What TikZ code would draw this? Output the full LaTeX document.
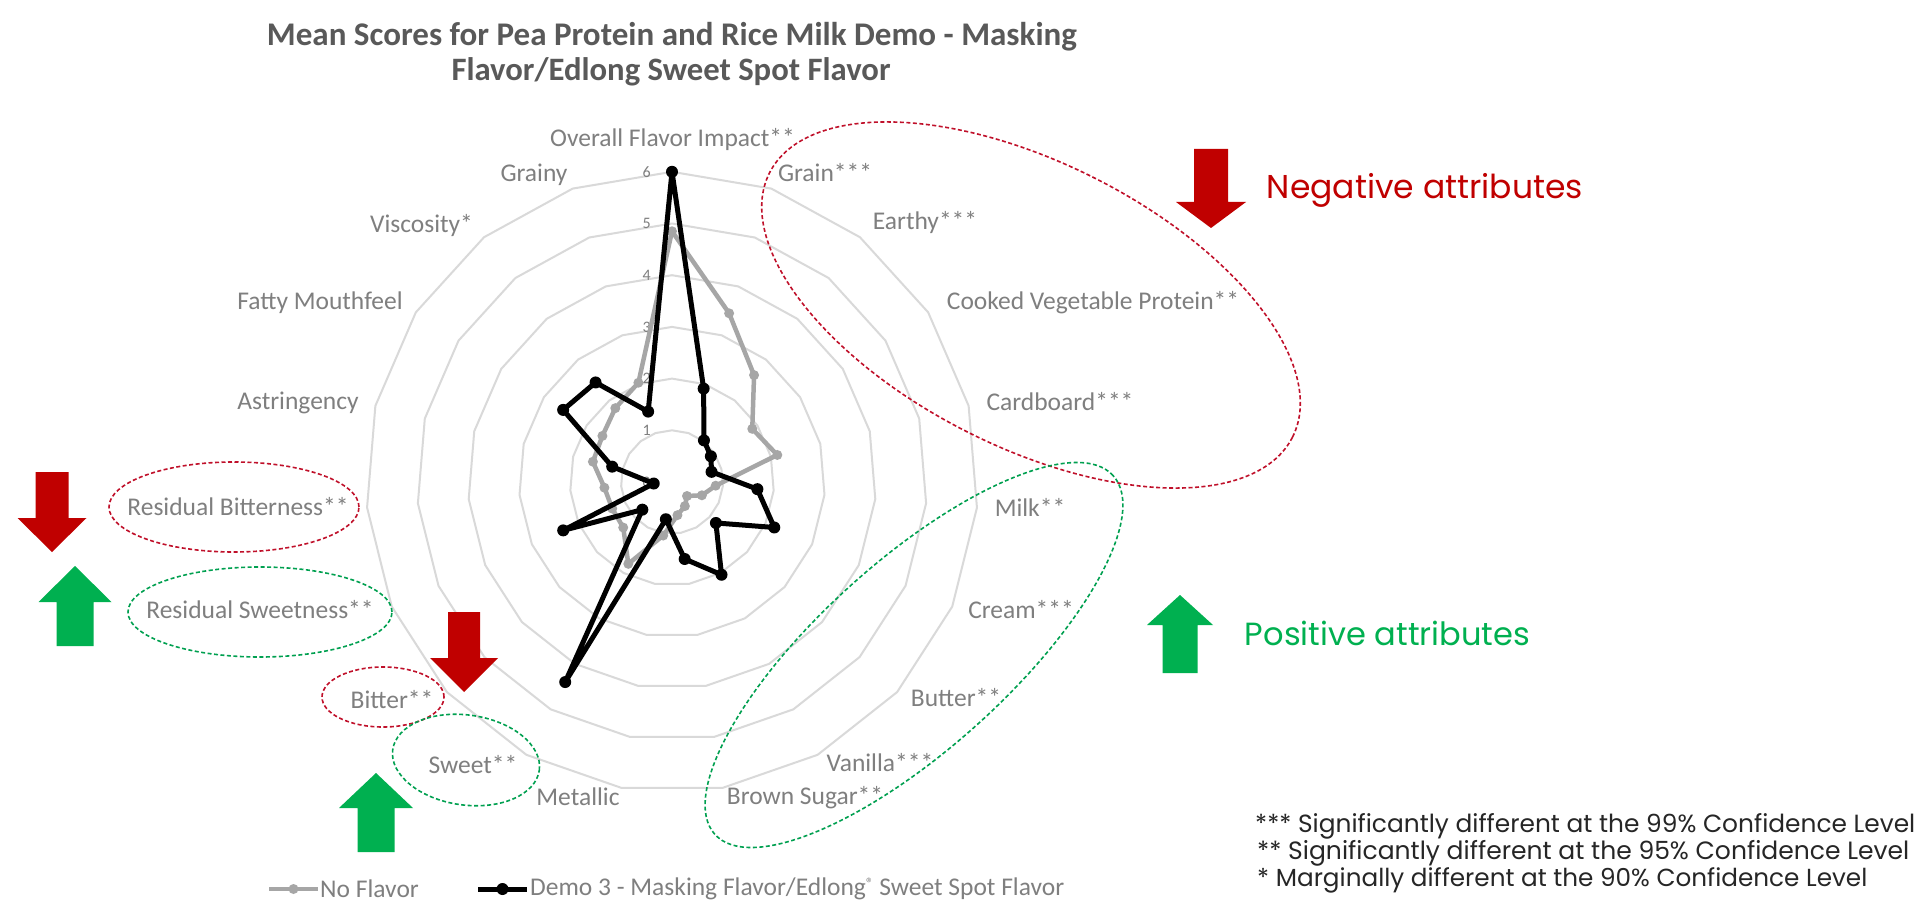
\documentclass[tikz,border=0pt]{standalone}
\usepackage{fontspec}
\setmainfont{Carlito}
\newfontfamily\gothic{Poppins}
\usepackage{graphicx}
\usetikzlibrary{calc}
\definecolor{labgray}{HTML}{7F7F7F}
\definecolor{titlegray}{HTML}{595959}
\definecolor{ringgray}{HTML}{D9D9D9}
\definecolor{sergray}{HTML}{A6A6A6}
\definecolor{negred}{HTML}{C00000}
\definecolor{posgreen}{HTML}{00B050}
\definecolor{dashred}{HTML}{C0102A}
\definecolor{dashgreen}{HTML}{00A050}
\newcommand\fitw[2]{\resizebox{#1}{!}{#2}}
\newcommand\blockarrow[7]{%
  \fill[#7] ({#1-#3},#2) -- ({#1+#3},#2) -- ({#1+#3},#5) -- ({#1+#4},#5) -- (#1,#6) -- ({#1-#4},#5) -- ({#1-#3},#5) -- cycle;}
\begin{document}
\begin{tikzpicture}[x=1pt,y=-1pt,
  axlbl/.style={text=labgray,font=\fontsize{25.5}{30}\selectfont,inner sep=0pt},
  scalelbl/.style={text=labgray,font=\fontsize{16}{18}\selectfont,inner sep=0pt,anchor=east},
  ring/.style={draw=ringgray,line width=2pt,line join=round},
  gline/.style={draw=sergray,line width=4.5pt,line join=round},
  bline/.style={draw=black,line width=5pt,line join=round},
  gmark/.style={fill=sergray},
  bmark/.style={fill=black},
  titlestyle/.style={text=titlegray,font=\bfseries,inner sep=0pt},
  redell/.style={draw=dashred,line width=1.6pt,dash pattern=on 4pt off 2.5pt},
  greenell/.style={draw=dashgreen,line width=1.6pt,dash pattern=on 4pt off 2.5pt},
  attr/.style={font=\gothic,inner sep=0pt},
  foot/.style={font=\gothic,text=black!85,inner sep=0pt,anchor=west},
  leglbl/.style={text=labgray,font=\fontsize{25.5}{30}\selectfont,inner sep=0pt,anchor=west}]
\useasboundingbox (0,0) rectangle (1924,901);
\fill[white] (0,0) rectangle (1924,901);

% title
\node[titlestyle] (title1) at (672,37) {\fitw{810pt}{Mean Scores for Pea Protein and Rice Milk Demo - Masking}};
\node[titlestyle] (title2) at (671,72) {\fitw{439pt}{Flavor/Edlong Sweet Spot Flavor}};

% rings
\foreach \r in {1,...,6}{
  \draw[ring] (672,{482-51.7*\r}) \foreach \k in {1,...,18}{ -- ({672+51*\r*cos(90-\k*360/19)},{482-51.7*\r*sin(90-\k*360/19)}) } -- cycle;
}
% scale labels
\foreach \k in {0,...,6}{
  \node[scalelbl] (s\k) at (651,{482-51.7*\k}) {\k};
}

% axis labels
\node[axlbl] (l0) at (672.5,140) {Overall Flavor Impact**};
\node[axlbl] (l1) at (825,173) {Grain***};
\node[axlbl] (l2) at (925,223) {Earthy***};
\node[axlbl] (l3) at (1093,303) {Cooked Vegetable Protein**};
\node[axlbl] (l4) at (1060,402) {Cardboard***};
\node[axlbl] (l5) at (1030,507) {Milk**};
\node[axlbl] (l6) at (1021,610) {Cream***};
\node[axlbl] (l7) at (956,698) {Butter**};
\node[axlbl] (l8) at (880,763) {Vanilla***};
\node[axlbl] (l9) at (805,798) {Brown Sugar**};
\node[axlbl] (l10) at (578,797) {Metallic};
\node[axlbl] (l11) at (473,765) {Sweet**};
\node[axlbl] (l12) at (392,700) {Bitter**};
\node[axlbl] (l13) at (260,610) {Residual Sweetness**};
\node[axlbl] (l14) at (238,507) {Residual Bitterness**};
\node[axlbl] (l15) at (298,403) {Astringency};
\node[axlbl] (l16) at (320,303) {Fatty Mouthfeel};
\node[axlbl] (l17) at (421.5,226) {Viscosity*};
\node[axlbl] (l18) at (534,175) {Grainy};

% data points
\foreach \v [count=\i from 0] in {4.85,3.45,2.62,1.88,2.13,0.86,0.64,0.40,0.53,0.65,1.05,1.8,1.30,1.28,1.33,1.60,1.63,1.81,2.03}{
  \coordinate (g\i) at ({672+51*\v*cos(90-\i*360/19)},{482-51.7*\v*sin(90-\i*360/19)});
}
\foreach \v [count=\i from 0] in {6,1.91,1.02,0.91,0.80,1.68,2.19,1.17,2.04,1.51,0.73,4.4,0.79,2.33,0.36,1.21,2.55,2.44,1.44}{
  \coordinate (b\i) at ({672+51*\v*cos(90-\i*360/19)},{482-51.7*\v*sin(90-\i*360/19)});
}
\draw[gline] (g0) \foreach \i in {1,...,18}{ -- (g\i) } -- cycle;
\foreach \i in {0,...,18}{ \fill[gmark] (g\i) circle (5pt); }
\draw[bline] (b0) \foreach \i in {1,...,18}{ -- (b\i) } -- cycle;
\foreach \i in {0,...,18}{ \fill[bmark] (b\i) circle (6pt); }

% dashed ellipses
\begin{scope}[shift={(1031,305)},rotate=-26.8]
  \draw[redell] (0,0) ellipse [x radius=293pt, y radius=142pt];
\end{scope}
\begin{scope}[shift={(914,655)},rotate=42]
  \draw[greenell] (0,0) ellipse [x radius=268pt, y radius=94pt];
\end{scope}
\draw[redell] (234,507) ellipse [x radius=125pt, y radius=45pt];
\draw[greenell] (260,612) ellipse [x radius=132pt, y radius=45pt];
\draw[redell] (383,697) ellipse [x radius=61pt, y radius=30pt];
\begin{scope}[shift={(466,760)},rotate=-8]
  \draw[greenell] (0,0) ellipse [x radius=74pt, y radius=45pt];
\end{scope}

% block arrows
\blockarrow{1211}{149}{17}{35}{202}{228}{negred}
\blockarrow{52}{472}{16.5}{34.5}{518}{552}{negred}
\blockarrow{464}{612}{16}{34}{658}{692}{negred}
\blockarrow{1180}{673}{17.5}{33}{625}{595}{posgreen}
\blockarrow{75}{646}{18.5}{36.5}{602}{566}{posgreen}
\blockarrow{376}{852}{18.5}{37}{808}{773}{posgreen}

% attribute texts
\node[attr,text=negred] (neg) at (1425,190) {\fitw{316pt}{Negative attributes}};
\node[attr,text=posgreen] (pos) at (1387.5,633) {\fitw{285pt}{Positive attributes}};

% footnotes
\node[foot] (f1) at (1255,826) {\fitw{660pt}{*** Significantly different at the 99\% Confidence Level}};
\node[foot] (f2) at (1257,853) {\fitw{652pt}{** Significantly different at the 95\% Confidence Level}};
\node[foot] (f3) at (1257,880) {\fitw{610pt}{* Marginally different at the 90\% Confidence Level}};

% legend
\coordinate (lg1) at (269,889);
\coordinate (lg2) at (318,889);
\draw[gline] (lg1) -- (lg2);
\fill[gmark] ($(lg1)!0.5!(lg2)$) circle (5pt);
\node[leglbl] (leg1) at (320,889) {No Flavor};
\coordinate (lb1) at (478,889);
\coordinate (lb2) at (527,889);
\draw[bline] (lb1) -- (lb2);
\fill[bmark] ($(lb1)!0.5!(lb2)$) circle (6pt);
\node[leglbl] (leg2) at (530,889) {Demo 3 - Masking Flavor/Edlong{\fontsize{15}{15}\selectfont\raisebox{7pt}{®}} Sweet Spot Flavor};
\end{tikzpicture}
\end{document}
